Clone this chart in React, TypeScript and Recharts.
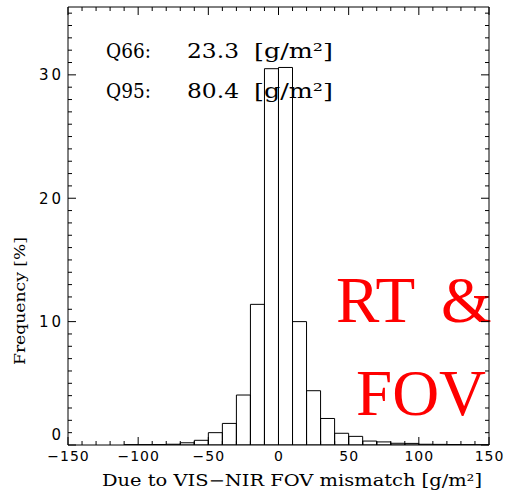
import React from 'react';
import { ComposedChart, Bar, Line, XAxis, YAxis } from 'recharts';

// bin categories (lower edges, width 10)
const binLabels = ['-150', '-140', '-130', '-120', '-110', '-100', '-90', '-80', '-70', '-60', '-50', '-40', '-30', '-20', '-10', '0', '10', '20', '30', '40', '50', '60', '70', '80', '90', '100', '110', '120', '130', '140'];
const binCenters = [-145, -135, -125, -115, -105, -95, -85, -75, -65, -55, -45, -35, -25, -15, -5, 5, 15, 25, 35, 45, 55, 65, 75, 85, 95, 105, 115, 125, 135, 145];
// frequency [%]
const frequency = [0, 0, 0, 0, 0.03, 0.03, 0.04, 0.06, 0.18, 0.38, 1.0, 1.75, 4.05, 11.4, 30.5, 30.6, 10.0, 4.4, 2.15, 0.95, 0.7, 0.32, 0.25, 0.14, 0.13, 0.06, 0.05, 0.04, 0.03, 0.02];

const xTicks = [-150, -140, -130, -120, -110, -100, -90, -80, -70, -60, -50, -40, -30, -20, -10, 0, 10, 20, 30, 40, 50, 60, 70, 80, 90, 100, 110, 120, 130, 140, 150];
const xMajor = [-150, -100, -50, 0, 50, 100, 150];
const yTicks = [0, 1, 2, 3, 4, 5, 6, 7, 8, 9, 10, 11, 12, 13, 14, 15, 16, 17, 18, 19, 20, 21, 22, 23, 24, 25, 26, 27, 28, 29, 30, 31, 32, 33, 34, 35];
const yMajor = [0, 10, 20, 30];

const data = binLabels.map((b, i) => ({ bin: b, center: binCenters[i], freq: frequency[i] }));

const LEFT = 68;
const RIGHT = 489;
const TOP = 7;
const BOTTOM = 445;
const W = 506;
const H = 496;

const xTickFont = { fontFamily: 'DejaVu Sans', fontSize: 14, letterSpacing: 1, fill: '#000' } as const;
const yTickFont = { fontFamily: 'DejaVu Sans', fontSize: 15, letterSpacing: 3, fill: '#000' } as const;
const fmt = (v: number) => (v < 0 ? '\u2212' + Math.abs(v) : String(v));

const BottomTick = (p: any) => {
  const v = p.payload.value;
  const major = xMajor.includes(v);
  return (
    <g>
      <line x1={p.x} x2={p.x} y1={BOTTOM} y2={BOTTOM - (major ? 8 : 4)} stroke="#000" strokeWidth={1} />
      {major && (
        <text x={p.x + 0.5} y={461} textAnchor="middle" {...xTickFont}>
          {fmt(v)}
        </text>
      )}
    </g>
  );
};

const TopTick = (p: any) => {
  const v = p.payload.value;
  const major = xMajor.includes(v);
  return <line x1={p.x} x2={p.x} y1={TOP} y2={TOP + (major ? 8 : 4)} stroke="#000" strokeWidth={1} />;
};

const LeftTick = (p: any) => {
  const v = p.payload.value;
  const major = yMajor.includes(v);
  return (
    <g>
      <line x1={LEFT} x2={LEFT + (major ? 8 : 4)} y1={p.y} y2={p.y} stroke="#000" strokeWidth={1} />
      {major && (
        <text x={64} y={v === 0 ? 440 : p.y + 5.5} textAnchor="end" {...yTickFont}>
          {fmt(v)}
        </text>
      )}
    </g>
  );
};

const RightTick = (p: any) => {
  const v = p.payload.value;
  const major = yMajor.includes(v);
  return <line x1={RIGHT} x2={RIGHT - (major ? 8 : 4)} y1={p.y} y2={p.y} stroke="#000" strokeWidth={1} />;
};

const serif = 'DejaVu Serif';

export default function App() {
  return (
    <div style={{ position: 'absolute', left: 0, top: 0, width: W, height: H, background: '#fff' }}>
      <ComposedChart
        width={W}
        height={H}
        data={data}
        margin={{ top: TOP - 1, right: W - RIGHT - 1, bottom: H - BOTTOM - 1, left: LEFT - 1 }}
        barCategoryGap={0}
        barGap={0}
      >
        <XAxis
          xAxisId="num"
          dataKey="center"
          type="number"
          domain={[-150, 150]}
          ticks={xTicks}
          interval={0}
          height={1}
          tickSize={0}
          tickLine={false}
          axisLine={{ stroke: '#000', strokeWidth: 1 }}
          tick={(p: any) => <BottomTick {...p} />}
          allowDataOverflow
        />
        <XAxis
          xAxisId="top"
          orientation="top"
          dataKey="center"
          type="number"
          domain={[-150, 150]}
          ticks={xTicks}
          interval={0}
          height={1}
          tickSize={0}
          tickLine={false}
          axisLine={{ stroke: '#000', strokeWidth: 1 }}
          tick={(p: any) => <TopTick {...p} />}
          allowDataOverflow
        />
        <XAxis xAxisId="cat" dataKey="bin" type="category" hide height={0} />
        <YAxis
          yAxisId="l"
          type="number"
          domain={[0, 35.5]}
          ticks={yTicks}
          interval={0}
          width={1}
          tickSize={0}
          tickLine={false}
          axisLine={{ stroke: '#000', strokeWidth: 1 }}
          tick={(p: any) => <LeftTick {...p} />}
          allowDataOverflow
        />
        <YAxis
          yAxisId="r"
          orientation="right"
          type="number"
          domain={[0, 35.5]}
          ticks={yTicks}
          interval={0}
          width={1}
          tickSize={0}
          tickLine={false}
          axisLine={{ stroke: '#000', strokeWidth: 1 }}
          tick={(p: any) => <RightTick {...p} />}
          allowDataOverflow
        />
        <Bar xAxisId="cat" yAxisId="l" dataKey="freq" fill="none" stroke="#000" strokeWidth={1} isAnimationActive={false} />
        <Line xAxisId="num" yAxisId="r" dataKey="freq" stroke="none" dot={false} activeDot={false} isAnimationActive={false} />
        <Line xAxisId="top" yAxisId="l" dataKey="freq" stroke="none" dot={false} activeDot={false} isAnimationActive={false} />

        <text x={106} y={58} fontFamily={serif} fontSize={21} textLength={45} lengthAdjust="spacingAndGlyphs">Q66:</text>
        <text x={187} y={58} fontFamily={serif} fontSize={21} textLength={52} lengthAdjust="spacingAndGlyphs">23.3</text>
        <text x={254} y={58} fontFamily={serif} fontSize={21} textLength={79} lengthAdjust="spacingAndGlyphs">[g/m²]</text>
        <text x={106} y={98} fontFamily={serif} fontSize={21} textLength={45} lengthAdjust="spacingAndGlyphs">Q95:</text>
        <text x={187} y={98} fontFamily={serif} fontSize={21} textLength={52} lengthAdjust="spacingAndGlyphs">80.4</text>
        <text x={254} y={98} fontFamily={serif} fontSize={21} textLength={79} lengthAdjust="spacingAndGlyphs">[g/m²]</text>

        <text x={102} y={486} fontFamily={serif} fontSize={16} textLength={380} lengthAdjust="spacingAndGlyphs">Due to VIS−NIR FOV mismatch [g/m²]</text>
        <text transform="translate(25,301) rotate(-90)" x={0} y={0} textAnchor="middle" fontFamily={serif} fontSize={15} textLength={128} lengthAdjust="spacingAndGlyphs">Frequency [%]</text>

        <text x={336} y={322} fontFamily="Liberation Serif" fontSize={65} fill="#ff0000">RT</text>
        <text x={441} y={322} fontFamily="Liberation Serif" fontSize={65} fill="#ff0000">&amp;</text>
        <text x={356} y={415} fontFamily="Liberation Serif" fontSize={65} fill="#ff0000">FOV</text>
      </ComposedChart>
    </div>
  );
}
